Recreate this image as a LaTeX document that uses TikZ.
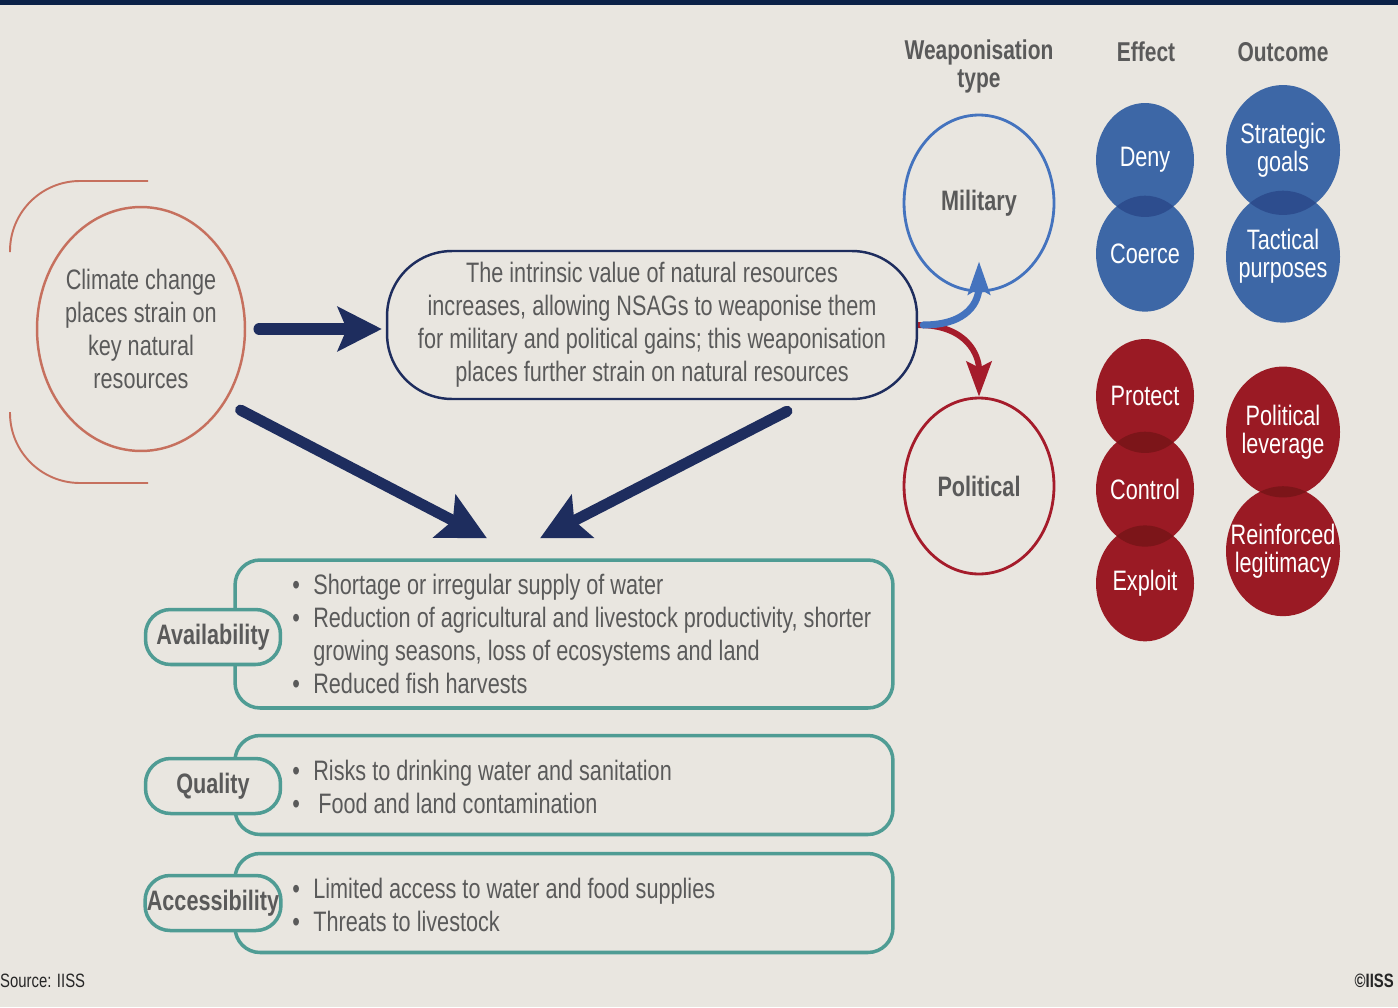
\documentclass[tikz,border=0pt]{standalone}
\usepackage{fontspec}
\setmainfont{Liberation Sans}[FakeStretch=0.77]
\usepackage{tikz}
\usetikzlibrary{arrows.meta,shapes,positioning,calc}

\definecolor{paper}{HTML}{E9E6E0}
\definecolor{band}{HTML}{0B2148}
\definecolor{ink}{HTML}{5A5A5A}
\definecolor{navy}{HTML}{1E2D5E}
\definecolor{salmon}{HTML}{C6705E}
\definecolor{milblue}{HTML}{4473BE}
\definecolor{blu}{HTML}{3D67A6}
\definecolor{bluov}{HTML}{2D4D8E}
\definecolor{polred}{HTML}{A51C2B}
\definecolor{red}{HTML}{9A1A24}
\definecolor{redov}{HTML}{7C1519}
\definecolor{teal}{HTML}{4F9C94}

\newcommand{\bul}{\makebox[0.42cm][l]{\textbullet}}

\tikzset{
    txt/.style={text=ink, font=\fontsize{16}{18.8}\selectfont},
    ring/.style={draw, ellipse, inner sep=0pt, line width=1.6pt, minimum width=3cm, minimum height=3.52cm,
        text=ink, font=\bfseries\fontsize{16}{18.8}\selectfont},
    pill/.style={draw=navy, line width=1.4pt, rounded corners=1.3cm, minimum width=10.6cm,
        minimum height=2.96cm, align=center, txt},
    blob/.style={ellipse, inner xsep=-0.6cm, inner ysep=-0.4cm, text=white, align=center,
        font=\fontsize{16}{15.9}\selectfont},
    head/.style={text=ink, align=center, font=\bfseries\fontsize{15.5}{15.9}\selectfont},
    tealbox/.style={draw=teal, line width=2pt, rounded corners=0.5cm, minimum width=13.16cm},
    tag/.style={draw=teal, fill=paper, line width=2pt, rounded corners=0.5cm, minimum width=2.7cm,
        minimum height=1.1cm, inner sep=1pt, text=ink, font=\bfseries\fontsize{16}{18.8}\selectfont},
    items/.style={anchor=west, align=left, inner sep=0pt, txt},
    fat/.style={draw=navy, line width=0.23cm, line cap=round,
        -{Stealth[length=0.88cm, width=0.88cm, inset=0.18cm]}},
    fatter/.style={draw=navy, line width=0.22cm, line cap=round,
        -{Stealth[length=0.95cm, width=0.95cm, inset=0.18cm]}}
}

\begin{document}
\begin{tikzpicture}[x=0.02cm, y=-0.02cm]
    \useasboundingbox (0,0) rectangle (1398,1007);
    \fill[paper] (0,0) rectangle (1398,1007);
    \fill[band] (0,0) rectangle (1398,5);

    % bracket round the first circle
    \draw[salmon, line width=1.1pt, rounded corners=1.4cm] (148,181) -- (10,181) -- (10,252);
    \draw[salmon, line width=1.1pt, rounded corners=1.4cm] (10,412) -- (10,483) -- (148,483);

    \node [ring, draw=salmon, line width=1.4pt, inner sep=-0.5cm, minimum width=4.16cm, minimum height=4.88cm,
        align=center, font=\fontsize{16}{18.8}\selectfont] (clim) at (141,329)
        {Climate change\\places strain on\\key natural\\resources};
    \node [pill] (intr) at (652,325) {The intrinsic value of natural resources\\
        increases, allowing NSAGs to weaponise them\\
        for military and political gains; this weaponisation\\
        places further strain on natural resources};

    \node [ring, draw=milblue] (mil) at (979,203) {Military};
    \node [ring, draw=polred] (pol) at (979,486) {Political};

    \node [head] (hwt) at (979,66) {Weaponisation\\type};
    \node [head] (heff) at (1146,52) {Effect};
    \node [head] (hout) at (1283,52) {Outcome};

    % effect and outcome
    \node [blob, fill=blu, minimum width=1.96cm, minimum height=2.28cm] (deny) at (1145,160) {Deny};
    \node [blob, fill=blu, minimum width=1.96cm, minimum height=2.32cm] (coerce) [below=-0.44cm of deny] {Coerce};
    \node [blob, fill=blu, minimum width=2.28cm, minimum height=2.6cm] (strat) at (1283,150) {Strategic\\goals};
    \node [blob, fill=blu, minimum width=2.28cm, minimum height=2.64cm] (tact) [below=-0.5cm of strat] {Tactical\\purposes};

    \node [blob, fill=red, minimum width=1.96cm, minimum height=2.28cm] (prot) at (1145,396) {Protect};
    \node [blob, fill=red, minimum width=1.96cm, minimum height=2.3cm] (ctrl) [below=-0.44cm of prot] {Control};
    \node [blob, fill=red, minimum width=1.96cm, minimum height=2.32cm] (expl) [below=-0.44cm of ctrl] {Exploit};
    \node [blob, fill=red, minimum width=2.28cm, minimum height=2.62cm] (lev) at (1283,432) {Political\\leverage};
    \node [blob, fill=red, minimum width=2.28cm, minimum height=2.6cm] (legit) [below=-0.24cm of lev] {Reinforced\\legitimacy};

    \begin{scope}
        \clip (deny.center) ellipse [x radius=0.98cm, y radius=1.14cm];
        \fill[bluov] (coerce.center) ellipse [x radius=0.98cm, y radius=1.16cm];
    \end{scope}
    \begin{scope}
        \clip (strat.center) ellipse [x radius=1.14cm, y radius=1.3cm];
        \fill[bluov] (tact.center) ellipse [x radius=1.14cm, y radius=1.32cm];
    \end{scope}
    \begin{scope}
        \clip (prot.center) ellipse [x radius=0.98cm, y radius=1.14cm];
        \fill[redov] (ctrl.center) ellipse [x radius=0.98cm, y radius=1.15cm];
    \end{scope}
    \begin{scope}
        \clip (ctrl.center) ellipse [x radius=0.98cm, y radius=1.15cm];
        \fill[redov] (expl.center) ellipse [x radius=0.98cm, y radius=1.16cm];
    \end{scope}
    \begin{scope}
        \clip (lev.center) ellipse [x radius=1.14cm, y radius=1.31cm];
        \fill[redov] (legit.center) ellipse [x radius=1.14cm, y radius=1.3cm];
    \end{scope}

    % boxes at the bottom
    \node [tealbox, minimum height=2.96cm] (avail) at (564,634) {};
    \node [tealbox, minimum height=1.98cm] (qual) at (564,785) {};
    \node [tealbox, minimum height=1.98cm] (acc) at (564,903) {};
    \node [tag] (availtag) at (213,637) {Availability};
    \node [tag] (qualtag) at (213,786) {Quality};
    \node [tag] (acctag) at (213,903) {Accessibility};

    \node [items] (availtxt) at (292,634) {\bul Shortage or irregular supply of water\\
        \bul Reduction of agricultural and livestock productivity, shorter\\
        \hspace*{0.42cm}growing seasons, loss of ecosystems and land\\
        \bul Reduced fish harvests};
    \node [items] (qualtxt) at (292,787) {\bul Risks to drinking water and sanitation\\
        \bul\hspace{0.1cm}Food and land contamination};
    \node [items] (acctxt) at (292,905) {\bul Limited access to water and food supplies\\
        \bul Threats to livestock};

    \coordinate (tipl) at ($(avail.north)+(-77,-20)$);
    \coordinate (tipr) at ($(avail.north)+(-24,-20)$);

    \draw[fat, shorten <=0.26cm, shorten >=0.08cm] (clim.east) -- (clim.east -| intr.west);
    \draw[fatter] ([shift={(13,11)}]clim.-39) -- (tipl);
    \draw[fatter] ([shift={(135,11)}]intr.south) -- (tipr);

    \draw[polred, line width=3.4pt, -{Stealth[length=0.7cm, width=0.5cm, inset=0.12cm]}]
        (intr.east) .. controls +(50,0) and +(0,-40) .. (pol.north);
    \draw[milblue, line width=4pt, line cap=round, -{Stealth[length=0.66cm, width=0.44cm, inset=0.12cm]}]
        ([xshift=0.1cm]intr.east) .. controls +(45,0) and +(0,40) .. ($(mil.south)+(0,-31)$);

    \node [anchor=west, text=black!85, font=\fontsize{11}{13}\selectfont] (src) at (-6,981) {Source: IISS};
    \node [anchor=east, text=black!85, font=\bfseries\fontsize{11}{13}\selectfont] (copy) at (1400,981) {\textcopyright IISS};
\end{tikzpicture}
\end{document}
